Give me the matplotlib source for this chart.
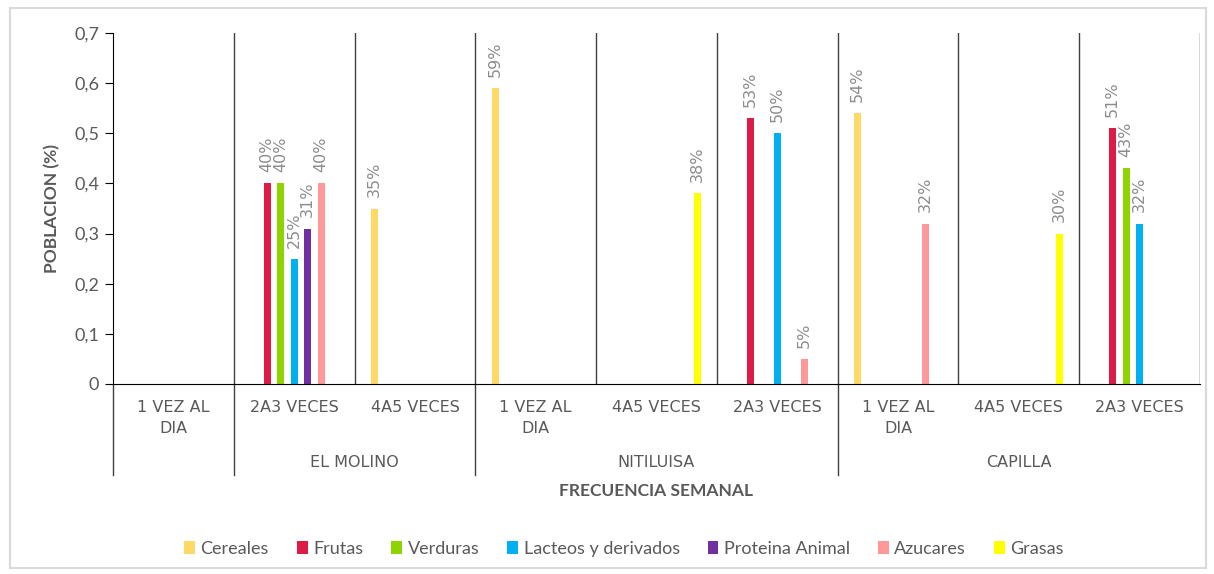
import numpy as np
import matplotlib
matplotlib.use("Agg")
import matplotlib.pyplot as plt
from matplotlib.lines import Line2D
from matplotlib.patches import Rectangle

plt.rcParams['font.family'] = ['Lato', 'DejaVu Sans']

categories = ["1 VEZ AL\nDIA", "2A3 VECES", "4A5 VECES",
              "1 VEZ AL\nDIA", "4A5 VECES", "2A3 VECES",
              "1 VEZ AL\nDIA", "4A5 VECES", "2A3 VECES"]
groups = ["", "EL MOLINO", "NITILUISA", "CAPILLA"]
group_bounds = [(0, 1), (1, 3), (3, 6), (6, 9)]

nan = np.nan
series = ["Cereales", "Frutas", "Verduras", "Lacteos y derivados",
          "Proteina Animal", "Azucares", "Grasas"]
cereales = [nan, nan, 0.35, 0.59, nan, nan, 0.54, nan, nan]
frutas = [nan, 0.40, nan, nan, nan, 0.53, nan, nan, 0.51]
verduras = [nan, 0.40, nan, nan, nan, nan, nan, nan, 0.43]
lacteos = [nan, 0.25, nan, nan, nan, 0.50, nan, nan, 0.32]
proteina = [nan, 0.31, nan, nan, nan, nan, nan, nan, nan]
azucares = [nan, 0.40, nan, nan, nan, 0.05, 0.32, nan, nan]
grasas = [nan, nan, nan, nan, 0.38, nan, nan, 0.30, nan]
values = [cereales, frutas, verduras, lacteos, proteina, azucares, grasas]
colors = ["#FFD966", "#DC1C46", "#8FD400", "#00B0F0", "#7030A0", "#FF9999", "#FFFF00"]

text_col = "#595959"
fig = plt.figure(figsize=(12.14, 5.74), dpi=100)
fig.patches.append(Rectangle((10 / 1214, 6 / 574), 1196 / 1214, 560 / 574,
                             transform=fig.transFigure, fill=False,
                             edgecolor="#d9d9d9", lw=1.5))
ax = fig.add_axes([113 / 1214, 1 - 384 / 574, 1087 / 1214, 351 / 574])

x = np.arange(9) + 0.5
slot = 0.112
bw = 0.058
for i, (name, vals, c) in enumerate(zip(series, values, colors)):
    v = np.array(vals, dtype=float)
    pos = x + (i - 3) * slot
    ax.bar(pos, np.nan_to_num(v), bw, color=c, label=name)
    for px, pv in zip(pos, v):
        if not np.isnan(pv):
            ax.annotate(f"{pv:.0%}", (px, pv), xytext=(0, 8), textcoords="offset points",
                        rotation=90, ha="center", va="bottom", color="#8c8c8c",
                        fontsize=11.5, family="DejaVu Sans")

ax.set_xlim(0, 9)
ax.set_ylim(0, 0.7)
ax.set_yticks(np.arange(0, 0.71, 0.1))
ax.set_yticklabels(["0"] + [f"0,{k}" for k in range(1, 8)], color=text_col, fontsize=13)
ax.tick_params(axis="y", length=6, color="black", pad=4)
ax.set_xticks([])
for s in ["top", "right"]:
    ax.spines[s].set_visible(False)
for s in ["left", "bottom"]:
    ax.spines[s].set_color("black")
for k in range(1, 10):
    ax.axvline(k, color="#404040", lw=1)

trans = ax.get_xaxis_transform()
for xc, lab in zip(x, categories):
    ax.text(xc, -0.045, lab, transform=trans, ha="center", va="top",
            color=text_col, fontsize=11.5, linespacing=1.5, family="DejaVu Sans")
for (a, b), g in zip(group_bounds, groups):
    ax.text((a + b) / 2, -0.225, g, transform=trans, ha="center", va="center",
            color=text_col, fontsize=11.5, family="DejaVu Sans")
for xb in [0, 1, 3, 6]:
    ax.add_line(Line2D([xb, xb], [0, -0.259], transform=trans, color="#404040",
                       lw=1, clip_on=False))

ax.set_ylabel("POBLACION (%)", color=text_col, fontsize=12.5, fontweight="bold", labelpad=10)
fig.text(656 / 1214, 1 - 491 / 574, "FRECUENCIA SEMANAL", ha="center", va="center",
         color=text_col, fontsize=12.5, fontweight="bold")

fig.legend(loc="center", bbox_to_anchor=(624 / 1214, 1 - 549 / 574), ncol=7, frameon=False,
           handlelength=0.6, handleheight=0.7, handletextpad=0.3, columnspacing=1.55,
           fontsize=13, labelcolor=text_col)

fig.savefig("out.png", dpi=100)
